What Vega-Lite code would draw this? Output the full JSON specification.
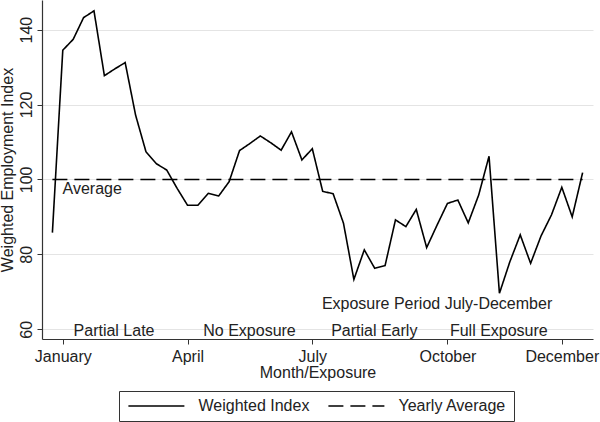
{
  "$schema": "https://vega.github.io/schema/vega-lite/v6.json",
  "autosize": {"type": "none"},
  "width": 551,
  "height": 339,
  "padding": {"left": 42, "top": 0, "right": 7, "bottom": 83},
  "background": "white",
  "config": {
    "font": "Liberation Sans",
    "view": {"stroke": null},
    "text": {"font": "Liberation Sans"}
  },
  "datasets": {
    "series": [
      {"week": 1, "index": 85.8, "average": 100},
      {"week": 2, "index": 134.5, "average": 100},
      {"week": 3, "index": 137.4, "average": 100},
      {"week": 4, "index": 143.2, "average": 100},
      {"week": 5, "index": 145.0, "average": 100},
      {"week": 6, "index": 127.7, "average": 100},
      {"week": 7, "index": 129.5, "average": 100},
      {"week": 8, "index": 131.2, "average": 100},
      {"week": 9, "index": 117.2, "average": 100},
      {"week": 10, "index": 107.4, "average": 100},
      {"week": 11, "index": 104.2, "average": 100},
      {"week": 12, "index": 102.5, "average": 100},
      {"week": 13, "index": 97.6, "average": 100},
      {"week": 14, "index": 93.1, "average": 100},
      {"week": 15, "index": 93.1, "average": 100},
      {"week": 16, "index": 96.3, "average": 100},
      {"week": 17, "index": 95.6, "average": 100},
      {"week": 18, "index": 99.4, "average": 100},
      {"week": 19, "index": 107.7, "average": 100},
      {"week": 20, "index": 109.6, "average": 100},
      {"week": 21, "index": 111.6, "average": 100},
      {"week": 22, "index": 109.8, "average": 100},
      {"week": 23, "index": 107.8, "average": 100},
      {"week": 24, "index": 112.7, "average": 100},
      {"week": 25, "index": 105.2, "average": 100},
      {"week": 26, "index": 108.2, "average": 100},
      {"week": 27, "index": 96.8, "average": 100},
      {"week": 28, "index": 96.2, "average": 100},
      {"week": 29, "index": 88.3, "average": 100},
      {"week": 30, "index": 73.3, "average": 100},
      {"week": 31, "index": 81.2, "average": 100},
      {"week": 32, "index": 76.3, "average": 100},
      {"week": 33, "index": 77.0, "average": 100},
      {"week": 34, "index": 89.2, "average": 100},
      {"week": 35, "index": 87.4, "average": 100},
      {"week": 36, "index": 92.0, "average": 100},
      {"week": 37, "index": 81.8, "average": 100},
      {"week": 38, "index": 87.8, "average": 100},
      {"week": 39, "index": 93.6, "average": 100},
      {"week": 40, "index": 94.5, "average": 100},
      {"week": 41, "index": 88.4, "average": 100},
      {"week": 42, "index": 95.8, "average": 100},
      {"week": 43, "index": 106.2, "average": 100},
      {"week": 44, "index": 69.6, "average": 100},
      {"week": 45, "index": 78.0, "average": 100},
      {"week": 46, "index": 85.2, "average": 100},
      {"week": 47, "index": 77.6, "average": 100},
      {"week": 48, "index": 84.9, "average": 100},
      {"week": 49, "index": 90.5, "average": 100},
      {"week": 50, "index": 97.9, "average": 100},
      {"week": 51, "index": 90.0, "average": 100},
      {"week": 52, "index": 101.8, "average": 100}
    ],
    "notes": [
      {"week": 4.83, "value": 96.1, "label": "Average"},
      {"week": 6.93, "value": 58.2, "label": "Partial Late"},
      {"week": 19.96, "value": 58.2, "label": "No Exposure"},
      {"week": 31.96, "value": 58.2, "label": "Partial Early"},
      {"week": 43.94, "value": 58.2, "label": "Full Exposure"},
      {"week": 38.0, "value": 65.3, "label": "Exposure Period July-December"}
    ]
  },
  "layer": [
    {
      "data": {"name": "series"},
      "transform": [{"fold": ["index", "average"], "as": ["series", "value"]}],
      "mark": {"type": "line", "color": "black", "strokeWidth": 1.6},
      "encoding": {
        "x": {
          "field": "week", "type": "quantitative",
          "scale": {"domain": [0, 53], "nice": false, "zero": false},
          "axis": {
            "values": [2, 14, 26, 39, 50],
            "labelExpr": "datum.value == 2 ? 'January' : datum.value == 14 ? 'April' : datum.value == 26 ? 'July' : datum.value == 39 ? 'October' : 'December'",
            "grid": false,
            "title": "Month/Exposure",
            "titleFontSize": 16, "titleFontWeight": "normal", "titleColor": "#222", "titlePadding": 0,
            "labelFontSize": 16, "labelColor": "#222", "labelPadding": 4,
            "domainColor": "#333", "tickColor": "#333", "tickSize": 5, "domainWidth": 1.2
          }
        },
        "y": {
          "field": "value", "type": "quantitative",
          "scale": {"domain": [57.4, 147.9], "nice": false, "zero": false},
          "axis": {
            "values": [60, 80, 100, 120, 140],
            "grid": true, "gridColor": "#e4e4e4", "gridWidth": 1,
            "title": "Weighted Employment Index",
            "titleFontSize": 16, "titleFontWeight": "normal", "titleColor": "#222", "titlePadding": 3,
            "labelAngle": -90, "labelAlign": "center", "labelBaseline": "bottom",
            "labelFontSize": 16, "labelColor": "#222", "labelPadding": 3,
            "domainColor": "#333", "tickColor": "#333", "tickSize": 5, "domainWidth": 1.2
          }
        },
        "strokeDash": {
          "field": "series", "type": "nominal",
          "scale": {"domain": ["index", "average"], "range": [[1, 0], [15, 7]]},
          "legend": {
            "orient": "none", "legendX": 77, "legendY": 391,
            "direction": "horizontal", "title": null,
            "labelExpr": "datum.label == 'index' ? 'Weighted Index' : 'Yearly Average'",
            "strokeColor": "#333", "padding": 7,
            "symbolType": "M-1,0H9", "symbolSize": 125.4, "symbolStrokeWidth": 1.6, "symbolStrokeColor": "black",
            "labelFontSize": 16, "labelColor": "#222", "labelOffset": 56.5, "columnPadding": 15
          }
        }
      }
    },
    {
      "data": {"name": "notes"},
      "mark": {"type": "text", "fontSize": 16, "color": "#222", "align": "center", "baseline": "alphabetic"},
      "encoding": {
        "x": {"field": "week", "type": "quantitative"},
        "y": {"field": "value", "type": "quantitative"},
        "text": {"field": "label"}
      }
    }
  ]
}
